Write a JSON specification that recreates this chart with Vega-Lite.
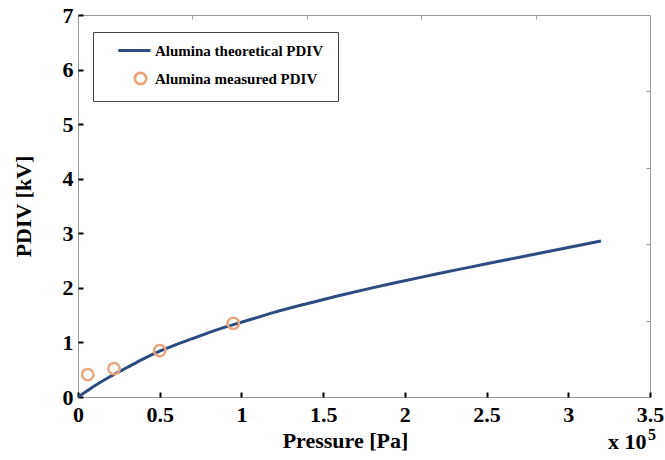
{
  "$schema": "https://vega.github.io/schema/vega-lite/v6.json",
  "width": 572,
  "height": 382,
  "autosize": "none",
  "padding": {"left": 78, "top": 15, "right": 15, "bottom": 63},
  "background": "white",
  "config": {
    "view": {"stroke": "#9a9a9a", "strokeWidth": 1},
    "font": "Liberation Serif",
    "axis": {
      "labelFont": "Liberation Serif",
      "labelFontWeight": "bold",
      "labelFontSize": 22,
      "labelColor": "black",
      "labelFlush": false,
      "titleFont": "Liberation Serif",
      "titleFontWeight": "bold",
      "titleFontSize": 22,
      "titleColor": "black",
      "grid": false,
      "domain": false
    },
    "legend": {
      "orient": "none",
      "legendX": 15,
      "legendY": 17,
      "strokeColor": "#444444",
      "fillColor": "white",
      "padding": 11,
      "symbolOffset": 29,
      "labelFont": "Liberation Serif",
      "labelFontWeight": "bold",
      "labelFontSize": 15,
      "labelColor": "black",
      "labelLimit": 400,
      "symbolSize": 130,
      "symbolStrokeWidth": 2.8,
      "rowPadding": 8,
      "labelOffset": 7
    }
  },
  "datasets": {
    "theory": [
      {"p": 0, "v": 0, "series": "Alumina  theoretical PDIV"},
      {"p": 0.05, "v": 0.1, "series": "Alumina  theoretical PDIV"},
      {"p": 0.1, "v": 0.2, "series": "Alumina  theoretical PDIV"},
      {"p": 0.2, "v": 0.38, "series": "Alumina  theoretical PDIV"},
      {"p": 0.3, "v": 0.54, "series": "Alumina  theoretical PDIV"},
      {"p": 0.4, "v": 0.7, "series": "Alumina  theoretical PDIV"},
      {"p": 0.5, "v": 0.84, "series": "Alumina  theoretical PDIV"},
      {"p": 0.6, "v": 0.96, "series": "Alumina  theoretical PDIV"},
      {"p": 0.7, "v": 1.07, "series": "Alumina  theoretical PDIV"},
      {"p": 0.8, "v": 1.18, "series": "Alumina  theoretical PDIV"},
      {"p": 0.9, "v": 1.28, "series": "Alumina  theoretical PDIV"},
      {"p": 1.0, "v": 1.37, "series": "Alumina  theoretical PDIV"},
      {"p": 1.1, "v": 1.46, "series": "Alumina  theoretical PDIV"},
      {"p": 1.2, "v": 1.55, "series": "Alumina  theoretical PDIV"},
      {"p": 1.4, "v": 1.71, "series": "Alumina  theoretical PDIV"},
      {"p": 1.6, "v": 1.86, "series": "Alumina  theoretical PDIV"},
      {"p": 1.8, "v": 2.0, "series": "Alumina  theoretical PDIV"},
      {"p": 2.0, "v": 2.13, "series": "Alumina  theoretical PDIV"},
      {"p": 2.2, "v": 2.26, "series": "Alumina  theoretical PDIV"},
      {"p": 2.4, "v": 2.38, "series": "Alumina  theoretical PDIV"},
      {"p": 2.6, "v": 2.5, "series": "Alumina  theoretical PDIV"},
      {"p": 2.8, "v": 2.62, "series": "Alumina  theoretical PDIV"},
      {"p": 3.0, "v": 2.74, "series": "Alumina  theoretical PDIV"},
      {"p": 3.2, "v": 2.86, "series": "Alumina  theoretical PDIV"}
    ],
    "measured": [
      {"p": 0.06, "v": 0.41, "series": "Alumina measured PDIV"},
      {"p": 0.22, "v": 0.52, "series": "Alumina measured PDIV"},
      {"p": 0.5, "v": 0.85, "series": "Alumina measured PDIV"},
      {"p": 0.95, "v": 1.35, "series": "Alumina measured PDIV"}
    ],
    "multiplier": [{"base": "x 10", "exp": "5"}]
  },
  "layer": [
    {
      "data": {"name": "theory"},
      "mark": {"type": "line", "strokeWidth": 3, "interpolate": "monotone"},
      "encoding": {
        "x": {
          "field": "p",
          "type": "quantitative",
          "scale": {"domain": [0, 3.5], "nice": false, "zero": false},
          "axis": {
            "orient": "bottom",
            "values": [0, 0.5, 1, 1.5, 2, 2.5, 3, 3.5],
            "format": "~g",
            "tickSize": -5,
            "tickWidth": 2,
            "tickColor": "black",
            "labelPadding": 12,
            "title": "Pressure [Pa]",
            "titlePadding": 5,
            "titleX": 267,
            "titleAnchor": "middle"
          }
        },
        "y": {
          "field": "v",
          "type": "quantitative",
          "scale": {"domain": [0, 7], "nice": false, "zero": false},
          "axis": {
            "orient": "left",
            "values": [0, 1, 2, 3, 4, 5, 6, 7],
            "format": "~g",
            "tickSize": -5,
            "tickWidth": 2,
            "tickColor": "black",
            "labelPadding": 10,
            "title": "PDIV [kV]",
            "titlePadding": 27
          }
        },
        "color": {
          "field": "series",
          "type": "nominal",
          "scale": {
            "domain": ["Alumina  theoretical PDIV", "Alumina measured PDIV"],
            "range": ["#2d4b7f", "#eaa57e"]
          },
          "legend": {"title": null}
        }
      }
    },
    {
      "data": {"name": "measured"},
      "mark": {"type": "point", "filled": false, "strokeWidth": 2.5, "size": 130, "opacity": 1},
      "encoding": {
        "x": {
          "field": "p",
          "type": "quantitative",
          "axis": {
            "orient": "top",
            "values": [0.7, 1.4, 2.1, 2.8],
            "labels": false,
            "title": null,
            "tickSize": -4,
            "tickWidth": 1,
            "tickColor": "#9a9a9a"
          }
        },
        "y": {
          "field": "v",
          "type": "quantitative",
          "axis": {
            "orient": "right",
            "values": [1.4, 2.8, 4.2, 5.6],
            "labels": false,
            "title": null,
            "tickSize": -4,
            "tickWidth": 1,
            "tickColor": "#9a9a9a"
          }
        },
        "color": {"field": "series", "type": "nominal", "legend": {"title": null}},
        "shape": {
          "field": "series",
          "type": "nominal",
          "scale": {
            "domain": ["Alumina  theoretical PDIV", "Alumina measured PDIV"],
            "range": ["M-3.9,0L1.75,0", "circle"]
          },
          "legend": {"title": null}
        }
      }
    },
    {
      "data": {"name": "multiplier"},
      "mark": {
        "type": "text",
        "align": "left",
        "baseline": "alphabetic",
        "dx": -42,
        "dy": 52,
        "font": "Liberation Serif",
        "fontWeight": "bold",
        "fontSize": 22,
        "color": "black"
      },
      "encoding": {
        "x": {"datum": 3.5, "type": "quantitative", "axis": null},
        "y": {"datum": 0, "type": "quantitative", "axis": null},
        "text": {"field": "base"}
      }
    },
    {
      "data": {"name": "multiplier"},
      "mark": {
        "type": "text",
        "align": "left",
        "baseline": "alphabetic",
        "dx": -2,
        "dy": 43,
        "font": "Liberation Serif",
        "fontWeight": "bold",
        "fontSize": 16,
        "color": "black"
      },
      "encoding": {
        "x": {"datum": 3.5, "type": "quantitative", "axis": null},
        "y": {"datum": 0, "type": "quantitative", "axis": null},
        "text": {"field": "exp"}
      }
    }
  ],
  "resolve": {"axis": {"x": "independent", "y": "independent"}}
}
